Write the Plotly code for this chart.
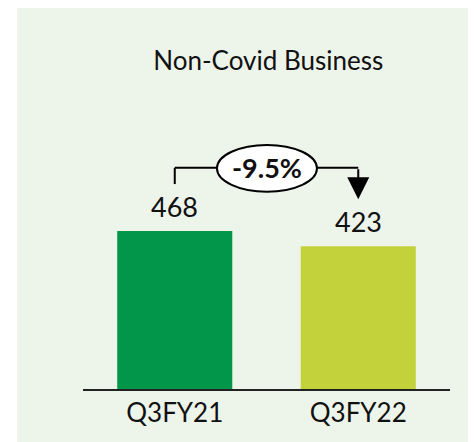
import plotly.graph_objects as go

# data
quarters = ["Q3FY21", "Q3FY22"]
revenue = [468, 423]
bar_colors = ["#02964A", "#C3D13B"]
change_label = "-9.5%"
title_text = "Non-Covid Business"

FONT = "Lato, Carlito, Calibri, sans-serif"
PANEL = "#EDF4EA"
Y_MAX = 856

fig = go.Figure()
fig.add_trace(go.Bar(
    x=quarters,
    y=revenue,
    marker_color=bar_colors,
    marker_line_width=0,
    hoverinfo="skip",
))

# value labels
for q, v in zip(quarters, revenue):
    fig.add_annotation(x=q, y=v, text=str(v), showarrow=False,
                       yanchor="bottom", yshift=6,
                       font=dict(size=27, color="#111111", family=FONT))

# bracket with percent change
top = 655
fig.add_shape(type="line", xref="x", yref="y", x0=0, x1=0, y0=607, y1=top,
              line=dict(color="black", width=2))
fig.add_shape(type="line", xref="x", yref="y", x0=0, x1=0.23, y0=top, y1=top,
              line=dict(color="black", width=2))
fig.add_shape(type="line", xref="x", yref="y", x0=0.775, x1=1, y0=top, y1=top,
              line=dict(color="black", width=2))
fig.add_annotation(x=1, y=562, ax=1, ay=top, xref="x", yref="y",
                   axref="x", ayref="y", text="", showarrow=True,
                   arrowhead=2, arrowsize=2.2, arrowwidth=2, arrowcolor="black")
fig.add_shape(type="circle", xref="x", yref="y", x0=0.23, x1=0.775,
              y0=584, y1=723, fillcolor="white",
              line=dict(color="black", width=2))
fig.add_annotation(x=0.5, y=top, xref="x", yref="y", text="<b>" + change_label + "</b>",
                   showarrow=False, font=dict(size=27, color="#111111", family=FONT))

# white strip left of the green panel
fig.add_shape(type="rect", xref="paper", yref="paper",
              x0=-0.25, x1=-0.18, y0=-0.3, y1=1.4,
              fillcolor="white", line_width=0, layer="below")

fig.update_layout(
    width=468, height=434,
    margin=dict(l=75, r=26, t=92, b=53),
    paper_bgcolor=PANEL,
    plot_bgcolor="rgba(0,0,0,0)",
    bargap=0.373,
    showlegend=False,
    title=dict(text=title_text, x=0.556, xanchor="center", y=0.878, yanchor="middle",
               font=dict(size=26, color="#111111", family=FONT)),
    font=dict(family=FONT, color="#111111"),
)
fig.update_xaxes(showline=True, linecolor="#222222", linewidth=1.5,
                 showgrid=False, ticks="", tickfont=dict(size=26, color="#111111"),
                 fixedrange=True)
fig.update_yaxes(range=[0, Y_MAX], visible=False, showgrid=False, fixedrange=True)

fig.write_html("out.html")
